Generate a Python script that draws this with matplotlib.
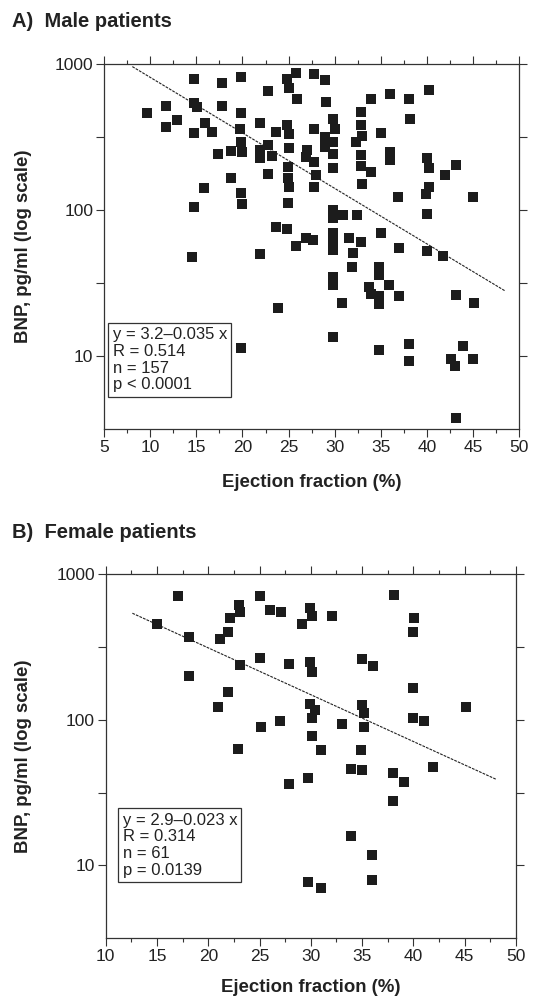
import numpy as np
import matplotlib
matplotlib.use("Agg")
import matplotlib.pyplot as plt
from matplotlib.ticker import FixedLocator, NullFormatter, MultipleLocator

plt.rcParams['font.family'] = ['Liberation Sans', 'DejaVu Sans']

# A) male patients: ejection fraction (%) and BNP (pg/ml)
male_ef = [14.7, 17.8, 19.8, 24.8, 25.8, 25.0, 22.8, 25.9, 14.8, 15.1, 17.8, 11.75, 9.7, 19.8,
           12.9, 11.7, 15.9, 16.7, 14.7, 19.7, 21.9, 23.6, 24.8, 25.0, 19.8, 18.8, 17.35, 20.0,
           21.9, 22.8, 21.9, 23.2, 25.0, 26.9, 24.9, 24.9, 22.8, 18.8, 25.0, 15.8, 19.8, 14.7,
           20.0, 24.9, 23.6, 24.8, 26.9, 25.8, 14.5, 21.9, 23.8, 19.8,
           27.8, 28.9, 29.1, 33.9, 36.0, 38.0, 40.2, 32.8, 29.8, 38.15, 27.8, 30.0, 32.8, 35.0,
           33.0, 32.3, 28.9, 29.8, 28.9, 27.0, 29.8, 32.8, 36.0, 36.0, 27.8, 29.8, 32.8, 33.9,
           40.0, 40.2, 43.1, 41.9, 28.0, 27.8, 33.0, 40.2, 39.85, 36.9, 45.0, 29.8, 29.8, 30.9,
           32.4, 40.0, 35.0, 27.7, 29.8, 29.8, 31.6, 32.8, 37.0, 40.0,
           29.8, 32.0, 41.7, 31.9, 34.8, 34.8, 29.8, 29.8, 33.7, 35.9, 33.9, 34.8, 34.8, 37.0,
           30.75, 43.1, 45.1, 29.8, 34.8, 38.0, 38.0, 43.9, 42.6, 43.0, 45.0, 43.1]
male_bnp = [793, 745, 819, 793, 871, 682, 651, 578, 543, 505, 517, 517, 463, 462,
            411, 368, 394, 344, 335, 360, 396, 344, 384, 330, 294, 255, 243, 251,
            258, 279, 226, 234, 267, 231, 198, 165, 178, 166, 144, 142, 132, 105,
            110, 112, 76.6, 74.1, 64.6, 56.6, 47.4, 49.8, 21.4, 11.3,
            855, 776, 552, 576, 620, 576, 661, 469, 418, 420, 359, 359, 382, 335,
            321, 294, 315, 294, 272, 258, 243, 238, 251, 222, 213, 194, 199, 181,
            228, 195, 203, 173, 173, 144, 151, 144, 128, 123, 123, 100, 87.7, 92.4,
            92.4, 94, 70, 62.4, 70, 60.7, 64, 60.7, 55, 52.4,
            53.2, 50.5, 48.7, 40.5, 40.9, 35.9, 34.9, 30.6, 29.8, 30.6, 26.6, 25.8, 22.6, 25.8,
            23.3, 26.2, 23.3, 13.6, 11.0, 12.1, 9.25, 11.8, 9.5, 8.63, 9.64, 3.8]
male_line_x = [8.07, 48.5]
male_line_y = [960, 27.9]
male_stats = "y = 3.2\u20130.035 x\nR = 0.514\nn = 157\np < 0.0001"

# B) female patients
female_ef = [17.0, 15.0, 18.1, 23.0, 23.1, 22.1, 21.95, 21.1, 25.0, 26.0, 27.1, 29.1, 29.9,
             25.0, 23.1, 27.9, 29.9, 18.1, 21.95, 20.9, 25.1, 27.0, 29.9, 38.1, 30.1, 32.1,
             40.1, 40.0, 30.1, 35.0, 36.1, 40.0, 30.4, 30.1, 35.0, 35.2, 33.0, 35.2, 40.0,
             41.05, 45.1, 30.1, 22.9, 27.9, 29.75, 29.75, 31.0, 34.85, 33.9, 35.0, 38.0,
             39.1, 41.9, 38.0, 33.9, 36.0, 36.0, 31.0]
female_bnp = [707, 457, 372, 613, 549, 500, 401, 357, 707, 568, 549, 455, 588,
              265, 238, 242, 247, 198, 154, 122, 88.7, 97.5, 129, 718, 516, 516,
              502, 399, 212, 261, 232, 165, 117, 102, 126, 111, 93.5, 89.3, 102,
              97.5, 123, 77.8, 63.4, 36, 40, 7.66, 61.8, 61.8, 46, 45.1, 43.3,
              37.5, 47.2, 27.9, 15.8, 11.8, 8.0, 6.95]
female_line_x = [12.6, 48.1]
female_line_y = [538, 38.9]
female_stats = "y = 2.9\u20130.023 x\nR = 0.314\nn = 61\np = 0.0139"

fig = plt.figure(figsize=(5.33, 10.01), dpi=100)
W, H = 533.0, 1001.0


def panel(rect, ef, bnp, lx, ly, xmin, stats, boxpos, title, title_y, xlab_y, ylab_x):
    ax = fig.add_axes(rect)
    ax.plot(ef, bnp, 's', color='#1c1c1c', markersize=6.6, markeredgewidth=0, zorder=3)
    ax.plot(lx, ly, color='#222222', lw=0.8, linestyle=(0, (2.5, 1)), zorder=2)
    ax.set_yscale('log')
    ax.set_ylim(10 ** 0.5, 1000)
    ax.set_xlim(xmin, 50)
    ax.yaxis.set_major_locator(FixedLocator([10, 100, 1000]))
    ax.set_yticklabels(['10', '100', '1000'])
    ax.yaxis.set_minor_locator(FixedLocator([10 ** 1.5, 10 ** 2.5]))
    ax.yaxis.set_minor_formatter(NullFormatter())
    ax.xaxis.set_major_locator(MultipleLocator(5))
    ax.xaxis.set_minor_locator(MultipleLocator(2.5))
    ax.tick_params(which='both', direction='out', top=True, right=True,
                   labelsize=12.5, width=0.8, color='#333333', labelcolor='#222222')
    ax.tick_params(axis='x', which='major', length=5.5, pad=2.5)
    ax.tick_params(axis='x', which='minor', length=3)
    ax.tick_params(axis='y', which='both', length=5.8, pad=2)
    for s in ax.spines.values():
        s.set_linewidth(0.9)
        s.set_color('#333333')
    ax.set_xlabel('Ejection fraction (%)', fontsize=13.4, fontweight='bold', color='#222222')
    ax.set_ylabel('BNP, pg/ml (log scale)', fontsize=13.4, fontweight='bold', color='#222222')
    ax.xaxis.set_label_coords(0.5, xlab_y)
    ax.yaxis.set_label_coords(ylab_x, 0.5)
    ax.text(boxpos[0], boxpos[1], stats, transform=ax.transAxes, fontsize=12,
            va='top', ha='left', linespacing=1.15, color='#222222',
            bbox=dict(boxstyle='square,pad=0.25', fc='white', ec='#333333', lw=0.9))
    fig.text(12 / W, 1 - title_y / H, title, fontsize=14.5, fontweight='bold',
             va='center', ha='left', color='#222222')
    return ax


panel([104 / W, 1 - 429.3 / H, 415.3 / W, 365.3 / H], male_ef, male_bnp,
      male_line_x, male_line_y, 5, male_stats, (0.0205, 0.28), 'A)  Male patients', 21.5,
      -0.121, -0.173)
panel([105.7 / W, 1 - 938.3 / H, 410.3 / W, 364.3 / H], female_ef, female_bnp,
      female_line_x, female_line_y, 10, female_stats, (0.041, 0.345), 'B)  Female patients', 533,
      -0.112, -0.18)

plt.savefig('out.png', dpi=100)
